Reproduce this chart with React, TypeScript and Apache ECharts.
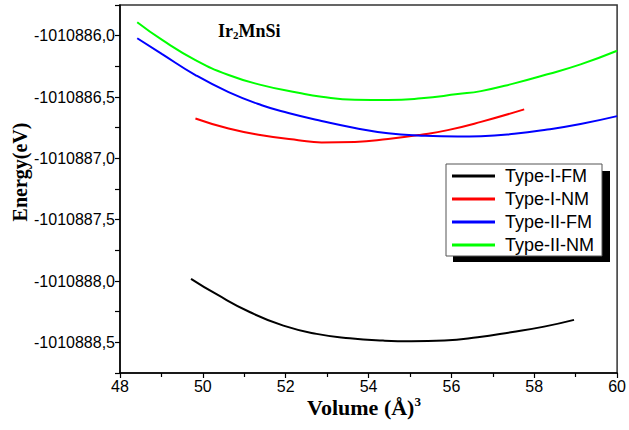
import React, { useEffect, useRef } from "react";
import * as echarts from "echarts";

const seriesNames = ["Type-I-FM", "Type-I-NM", "Type-II-FM", "Type-II-NM"];
const seriesColors = ["#000000", "#ff0000", "#0000ff", "#00ff00"];

const volI_FM = [49.715, 50.34, 51.143, 51.944, 52.745, 53.548, 54.349, 55.03, 55.833, 56.634, 57.435, 58.238, 58.96];
const enI_FM = [-1010887.982, -1010888.11, -1010888.255, -1010888.364, -1010888.431, -1010888.467, -1010888.486, -1010888.492, -1010888.486, -1010888.459, -1010888.418, -1010888.372, -1010888.317];

const volI_NM = [49.821, 50.621, 51.422, 52.305, 52.865, 53.669, 54.47, 55.27, 55.912, 56.713, 57.757];
const enI_NM = [-1010886.675, -1010886.757, -1010886.811, -1010886.852, -1010886.87, -1010886.866, -1010886.842, -1010886.807, -1010886.77, -1010886.703, -1010886.601];

const volII_FM = [48.416, 49.017, 49.821, 50.621, 51.422, 52.064, 52.865, 53.669, 54.47, 55.27, 56.153, 56.713, 57.517, 58.317, 59.118, 60.0];
const enII_FM = [-1010886.021, -1010886.15, -1010886.321, -1010886.46, -1010886.567, -1010886.63, -1010886.695, -1010886.752, -1010886.795, -1010886.815, -1010886.823, -1010886.82, -1010886.8, -1010886.765, -1010886.72, -1010886.656];

const volII_NM = [48.416, 49.017, 49.821, 50.621, 51.422, 52.305, 52.865, 53.669, 54.47, 55.27, 56.153, 56.713, 57.517, 58.317, 59.118, 60.0];
const enII_NM = [-1010885.891, -1010886.035, -1010886.199, -1010886.321, -1010886.403, -1010886.466, -1010886.498, -1010886.522, -1010886.525, -1010886.511, -1010886.476, -1010886.452, -1010886.389, -1010886.315, -1010886.234, -1010886.123];

const xTicks = { min: 48, max: 60, interval: 2 };
const yTicks = { min: -1010888.75, max: -1010885.75, interval: 0.25 };

const volumes = [volI_FM, volI_NM, volII_FM, volII_NM];
const energies = [enI_FM, enI_NM, enII_FM, enII_NM];

export default function App() {
  const ref = useRef<HTMLDivElement>(null);
  useEffect(() => {
    if (!ref.current) return;
    const chart = echarts.init(ref.current, undefined, { renderer: "svg" });
    const series = seriesNames.map((name, i) => ({
      name,
      type: "line",
      smooth: 0.5,
      showSymbol: false,
      symbol: "none",
      lineStyle: { color: seriesColors[i], width: 2 },
      itemStyle: { color: seriesColors[i] },
      data: volumes[i].map((v, j) => [v, energies[i][j]]),
      z: 3,
    }));
    chart.setOption({
      animation: false,
      backgroundColor: "#ffffff",
      grid: {
        left: 120,
        right: 9,
        top: 5,
        bottom: 57,
        show: true,
        borderColor: "#333",
        borderWidth: 1.5,
      },
      xAxis: {
        type: "value",
        min: xTicks.min,
        max: xTicks.max,
        interval: xTicks.interval,
        axisLine: { lineStyle: { color: "#000", width: 1.5 } },
        axisTick: { show: true, length: 5, lineStyle: { color: "#000", width: 1.2 } },
        minorTick: { show: true, splitNumber: 2, length: 4, lineStyle: { color: "#000", width: 1.2 } },
        splitLine: { show: false },
        axisLabel: { fontFamily: "Liberation Sans", fontSize: 16, color: "#000", margin: 5 },
      },
      yAxis: {
        type: "value",
        min: yTicks.min,
        max: yTicks.max,
        interval: yTicks.interval,
        axisLine: { show: true, lineStyle: { color: "#000", width: 1.5 } },
        axisTick: { show: true, length: 5, lineStyle: { color: "#000", width: 1.2 } },
        splitLine: { show: false },
        axisLabel: {
          fontFamily: "Liberation Sans",
          fontSize: 16,
          color: "#000",
          margin: 5,
          formatter: (v: number) => {
            const d = v * 2;
            if (Math.abs(d - Math.round(d)) > 1e-6) return "";
            if (v <= yTicks.min + 1e-6) return "";
            return v.toFixed(1).replace(".", ",");
          },
        },
      },
      legend: {
        orient: "vertical",
        left: 446,
        top: 164,
        padding: [3, 8, 2, 6],
        itemGap: 5,
        itemWidth: 43,
        itemHeight: 3,
        icon: "rect",
        backgroundColor: "#ffffff",
        borderColor: "#555",
        borderWidth: 1,
        z: 20,
        textStyle: { fontFamily: "Liberation Sans", fontSize: 18, color: "#000", lineHeight: 18, padding: [0, 0, 0, 5] },
        data: seriesNames.map((n, i) => ({ name: n, itemStyle: { color: seriesColors[i] } })),
      },
      graphic: [
        {
          type: "rect",
          z: 15,
          shape: { x: 453, y: 171, width: 157, height: 91 },
          style: { fill: "#000" },
        },
        {
          type: "text",
          left: 218,
          top: 22,
          style: {
            text: "{a|Ir}{s|2}{a|MnSi}",
            rich: {
              a: { fontFamily: "Liberation Serif", fontWeight: "bold", fontSize: 18, fill: "#000", verticalAlign: "bottom" },
              s: { fontFamily: "Liberation Serif", fontWeight: "bold", fontSize: 11, fill: "#000", padding: [14, 0, 0, 0], verticalAlign: "bottom" },
            },
          },
        },
        {
          type: "text",
          x: 20,
          y: 172,
          rotation: Math.PI / 2,
          style: {
            text: "Energy(eV)",
            fontFamily: "Liberation Serif",
            fontWeight: "bold",
            fontSize: 20,
            fill: "#000",
            align: "center",
            verticalAlign: "middle",
          },
        },
        {
          type: "text",
          x: 364,
          y: 407,
          style: {
            text: "{a|Volume (Å)}{s|3}",
            align: "center",
            verticalAlign: "middle",
            rich: {
              a: { fontFamily: "Liberation Serif", fontWeight: "bold", fontSize: 22, fill: "#000" },
              s: { fontFamily: "Liberation Serif", fontWeight: "bold", fontSize: 13, fill: "#000", padding: [0, 0, 12, 0] },
            },
          },
        },
      ],
      series,
    });
    return () => chart.dispose();
  }, []);
  return <div ref={ref} style={{ width: 629, height: 430, position: "absolute", left: 0, top: 0 }} />;
}
